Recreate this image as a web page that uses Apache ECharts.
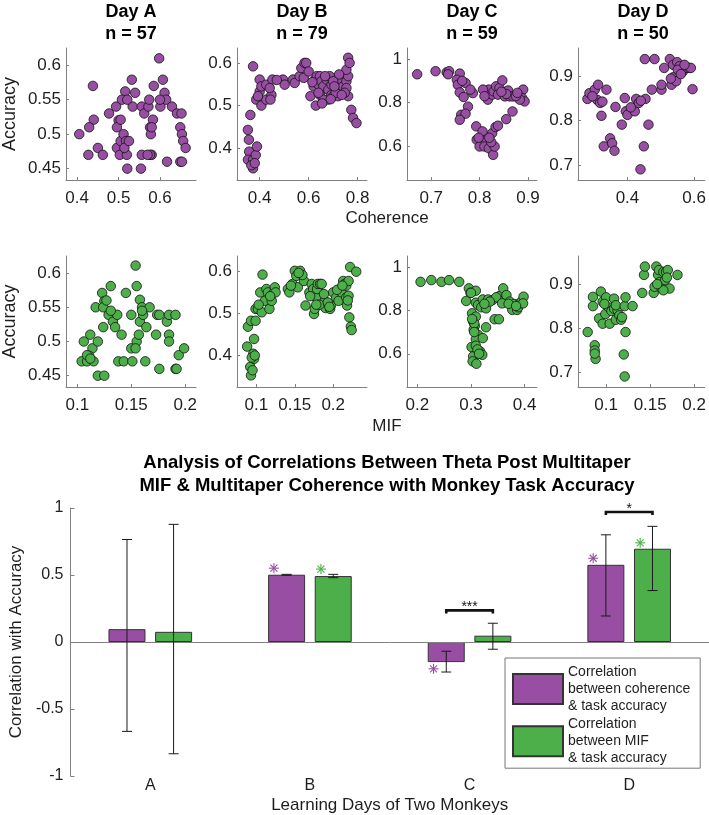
<!DOCTYPE html>
<html><head><meta charset="utf-8">
<script src="https://cdn.jsdelivr.net/npm/echarts@6/dist/echarts.min.js"></script>
<style>html,body{margin:0;padding:0;background:#fff}#c{width:709px;height:815px}</style>
</head><body><div id="c"></div>
<script>
// ---------------- DATA ----------------
const days = ['A', 'B', 'C', 'D'];
const dayN = [57, 79, 59, 50];

// Coherence vs accuracy, per day  [coherence, accuracy]
const cohDayA = [[0.405,0.500],[0.438,0.570],[0.440,0.521],[0.429,0.510],[0.427,0.470],[0.450,0.480],[0.462,0.470],[0.477,0.530],[0.494,0.540],[0.500,0.520],[0.496,0.510],[0.505,0.521],[0.496,0.480],[0.503,0.470],[0.505,0.490],[0.516,0.562],[0.508,0.550],[0.512,0.500],[0.518,0.490],[0.520,0.470],[0.521,0.450],[0.532,0.579],[0.534,0.540],[0.540,0.560],[0.521,0.550],[0.554,0.450],[0.556,0.540],[0.562,0.530],[0.556,0.470],[0.572,0.540],[0.574,0.550],[0.576,0.510],[0.578,0.500],[0.580,0.470],[0.576,0.470],[0.583,0.521],[0.580,0.510],[0.585,0.570],[0.598,0.610],[0.607,0.579],[0.601,0.540],[0.611,0.560],[0.615,0.550],[0.629,0.540],[0.617,0.460],[0.641,0.530],[0.652,0.530],[0.649,0.510],[0.653,0.500],[0.656,0.490],[0.662,0.480],[0.649,0.460],[0.653,0.460],[0.570,0.470],[0.514,0.480],[0.525,0.490],[0.600,0.550]];
const cohDayB = [[0.352,0.443],[0.356,0.420],[0.357,0.392],[0.352,0.373],[0.373,0.373],[0.384,0.384],[0.389,0.404],[0.373,0.353],[0.366,0.360],[0.362,0.478],[0.373,0.592],[0.386,0.514],[0.400,0.561],[0.400,0.533],[0.407,0.500],[0.427,0.514],[0.407,0.545],[0.427,0.549],[0.448,0.525],[0.444,0.514],[0.452,0.561],[0.441,0.541],[0.495,0.561],[0.502,0.549],[0.536,0.561],[0.543,0.553],[0.563,0.569],[0.570,0.588],[0.583,0.600],[0.590,0.600],[0.580,0.565],[0.600,0.580],[0.620,0.545],[0.607,0.522],[0.629,0.500],[0.627,0.561],[0.640,0.549],[0.633,0.569],[0.646,0.569],[0.652,0.557],[0.660,0.545],[0.673,0.561],[0.680,0.537],[0.680,0.514],[0.693,0.525],[0.686,0.569],[0.700,0.522],[0.713,0.553],[0.720,0.522],[0.727,0.533],[0.733,0.561],[0.740,0.545],[0.754,0.557],[0.761,0.569],[0.754,0.584],[0.761,0.522],[0.754,0.541],[0.761,0.612],[0.767,0.600],[0.774,0.490],[0.781,0.471],[0.795,0.459],[0.646,0.525],[0.693,0.549],[0.724,0.573],[0.660,0.514],[0.667,0.569],[0.700,0.557],[0.710,0.530],[0.747,0.530],[0.640,0.530],[0.655,0.505],[0.690,0.515],[0.735,0.525],[0.615,0.555],[0.380,0.365],[0.393,0.522],[0.470,0.560],[0.705,0.545]];
const cohDayC = [[0.671,0.930],[0.709,0.944],[0.732,0.939],[0.737,0.944],[0.759,0.933],[0.753,0.905],[0.755,0.882],[0.771,0.890],[0.759,0.847],[0.767,0.826],[0.786,0.844],[0.781,0.860],[0.776,0.782],[0.762,0.745],[0.771,0.750],[0.759,0.722],[0.793,0.692],[0.794,0.631],[0.800,0.600],[0.806,0.669],[0.814,0.631],[0.810,0.600],[0.819,0.592],[0.828,0.562],[0.831,0.600],[0.826,0.661],[0.833,0.689],[0.838,0.695],[0.855,0.725],[0.868,0.760],[0.814,0.844],[0.817,0.814],[0.819,0.860],[0.826,0.837],[0.829,0.852],[0.834,0.875],[0.841,0.867],[0.847,0.902],[0.838,0.837],[0.852,0.829],[0.859,0.856],[0.862,0.829],[0.869,0.829],[0.883,0.837],[0.890,0.860],[0.888,0.821],[0.893,0.806],[0.883,0.814],[0.855,0.840],[0.807,0.860],[0.810,0.830],[0.798,0.640],[0.824,0.620],[0.845,0.850],[0.875,0.830],[0.735,0.930],[0.764,0.900],[0.820,0.640],[0.878,0.845]];
const cohDayD = [[0.280,0.849],[0.286,0.862],[0.302,0.870],[0.312,0.881],[0.309,0.847],[0.318,0.840],[0.325,0.843],[0.322,0.811],[0.337,0.870],[0.329,0.742],[0.348,0.760],[0.354,0.749],[0.361,0.732],[0.364,0.831],[0.392,0.851],[0.395,0.821],[0.400,0.813],[0.383,0.791],[0.422,0.821],[0.426,0.849],[0.434,0.840],[0.454,0.849],[0.452,0.939],[0.481,0.939],[0.463,0.791],[0.449,0.742],[0.439,0.690],[0.473,0.870],[0.502,0.870],[0.502,0.881],[0.510,0.919],[0.527,0.939],[0.532,0.881],[0.537,0.898],[0.546,0.889],[0.537,0.926],[0.549,0.932],[0.556,0.923],[0.566,0.911],[0.576,0.919],[0.585,0.919],[0.590,0.919],[0.595,0.871],[0.551,0.915],[0.571,0.926],[0.295,0.855],[0.410,0.830],[0.440,0.845],[0.530,0.895],[0.560,0.905]];

// MIF vs accuracy, per day  [MIF, accuracy]
const mifDayA = [[0.106,0.500],[0.104,0.471],[0.109,0.471],[0.112,0.510],[0.114,0.490],[0.111,0.479],[0.115,0.471],[0.109,0.480],[0.119,0.500],[0.117,0.550],[0.119,0.450],[0.125,0.450],[0.123,0.571],[0.125,0.559],[0.124,0.550],[0.124,0.521],[0.127,0.560],[0.131,0.581],[0.129,0.539],[0.133,0.529],[0.135,0.521],[0.137,0.539],[0.141,0.510],[0.138,0.471],[0.143,0.471],[0.145,0.571],[0.150,0.539],[0.151,0.471],[0.150,0.490],[0.154,0.611],[0.155,0.581],[0.158,0.561],[0.155,0.500],[0.154,0.490],[0.157,0.510],[0.158,0.529],[0.160,0.550],[0.161,0.539],[0.164,0.521],[0.163,0.471],[0.167,0.550],[0.173,0.510],[0.174,0.539],[0.176,0.539],[0.176,0.460],[0.183,0.529],[0.185,0.539],[0.185,0.510],[0.185,0.500],[0.191,0.539],[0.191,0.460],[0.192,0.460],[0.194,0.480],[0.199,0.490],[0.131,0.545],[0.160,0.545],[0.112,0.475]];
const mifDayB = [[0.088,0.421],[0.089,0.468],[0.092,0.373],[0.093,0.353],[0.096,0.404],[0.097,0.439],[0.097,0.392],[0.093,0.482],[0.099,0.510],[0.102,0.510],[0.099,0.482],[0.107,0.502],[0.105,0.549],[0.108,0.591],[0.111,0.529],[0.113,0.557],[0.115,0.549],[0.117,0.510],[0.120,0.529],[0.123,0.549],[0.124,0.561],[0.125,0.549],[0.141,0.557],[0.143,0.549],[0.147,0.569],[0.150,0.600],[0.152,0.588],[0.157,0.600],[0.154,0.561],[0.162,0.576],[0.164,0.518],[0.169,0.549],[0.172,0.569],[0.174,0.557],[0.175,0.498],[0.176,0.510],[0.178,0.537],[0.179,0.557],[0.180,0.569],[0.183,0.569],[0.185,0.569],[0.189,0.529],[0.190,0.512],[0.196,0.510],[0.197,0.518],[0.200,0.549],[0.204,0.537],[0.207,0.529],[0.209,0.557],[0.211,0.549],[0.213,0.576],[0.215,0.569],[0.217,0.565],[0.217,0.537],[0.218,0.518],[0.220,0.576],[0.220,0.541],[0.221,0.490],[0.223,0.468],[0.224,0.460],[0.222,0.609],[0.230,0.598],[0.094,0.395],[0.095,0.365],[0.098,0.400],[0.103,0.520],[0.118,0.540],[0.145,0.565],[0.160,0.590],[0.170,0.540],[0.182,0.520],[0.188,0.545],[0.193,0.525],[0.205,0.555],[0.212,0.565],[0.219,0.530],[0.155,0.595],[0.178,0.520],[0.195,0.515]];
const mifDayC = [[0.206,0.931],[0.226,0.939],[0.245,0.931],[0.259,0.939],[0.278,0.931],[0.296,0.901],[0.299,0.881],[0.291,0.843],[0.309,0.890],[0.302,0.786],[0.304,0.748],[0.309,0.771],[0.307,0.728],[0.305,0.710],[0.313,0.687],[0.309,0.667],[0.301,0.631],[0.309,0.637],[0.304,0.588],[0.303,0.565],[0.310,0.554],[0.317,0.611],[0.321,0.595],[0.322,0.672],[0.328,0.722],[0.309,0.835],[0.313,0.824],[0.322,0.850],[0.319,0.814],[0.328,0.809],[0.332,0.850],[0.340,0.847],[0.344,0.759],[0.352,0.759],[0.353,0.866],[0.360,0.901],[0.362,0.847],[0.366,0.870],[0.372,0.840],[0.377,0.802],[0.381,0.829],[0.386,0.802],[0.388,0.814],[0.391,0.832],[0.394,0.840],[0.398,0.863],[0.397,0.832],[0.347,0.860],[0.358,0.832],[0.306,0.740],[0.312,0.620],[0.300,0.880],[0.335,0.840],[0.370,0.830],[0.384,0.820],[0.306,0.700],[0.315,0.600],[0.325,0.830],[0.302,0.760]];
const mifDayD = [[0.079,0.791],[0.085,0.871],[0.085,0.850],[0.087,0.761],[0.087,0.749],[0.088,0.730],[0.087,0.742],[0.094,0.883],[0.096,0.860],[0.092,0.822],[0.096,0.810],[0.099,0.832],[0.100,0.870],[0.103,0.847],[0.106,0.839],[0.109,0.867],[0.104,0.810],[0.109,0.844],[0.113,0.841],[0.111,0.852],[0.111,0.819],[0.115,0.829],[0.117,0.819],[0.121,0.850],[0.122,0.870],[0.122,0.791],[0.120,0.740],[0.121,0.690],[0.130,0.850],[0.141,0.880],[0.143,0.921],[0.144,0.940],[0.154,0.880],[0.155,0.894],[0.157,0.940],[0.159,0.921],[0.160,0.932],[0.161,0.905],[0.163,0.890],[0.165,0.928],[0.167,0.909],[0.168,0.928],[0.172,0.890],[0.170,0.932],[0.181,0.921],[0.165,0.886],[0.098,0.855],[0.118,0.825],[0.158,0.900],[0.169,0.915]];

// Axis ranges and tick labels per day
const accRange  = [[0.4335, 0.625], [0.3255, 0.635], [0.447, 1.05], [0.666, 0.964]];
const accTicks  = [[0.45, 0.5, 0.55, 0.6], [0.4, 0.5, 0.6], [0.6, 0.8, 1], [0.7, 0.8, 0.9]];
const cohRange  = [[0.373, 0.687], [0.3075, 0.838], [0.65, 0.9186], [0.2517, 0.632]];
const cohTicks  = [[0.4, 0.5, 0.6], [0.4, 0.6, 0.8], [0.7, 0.8, 0.9], [0.4, 0.6]];
const mifRange  = [[0.0895, 0.210], [0.0748, 0.244], [0.1807, 0.423], [0.068, 0.212]];
const mifTicks  = [[0.1, 0.15, 0.2], [0.1, 0.15, 0.2], [0.2, 0.3, 0.4], [0.1, 0.15, 0.2]];

// Correlation bar chart
const cohCorr     = [0.096, 0.502, -0.150, 0.576];
const mifCorr     = [0.076, 0.492, 0.047, 0.696];
const cohErrLow   = [-0.667, 0.498, -0.224, 0.194];
const cohErrHigh  = [0.765, 0.505, -0.069, 0.800];
const mifErrLow   = [-0.834, 0.480, -0.054, 0.384];
const mifErrHigh  = [0.878, 0.505, 0.140, 0.863];
const cohStar     = [null, 0.551, -0.200, 0.625];
const mifStar     = [null, 0.544, null, 0.740];
const bracketDays = ['C', 'D'];
const bracketY    = [0.236, 0.970];
const bracketText = ['***', '*'];
const barTicks    = [-1, -0.5, 0, 0.5, 1];

// ---------------- STYLE ----------------
const PURPLE = '#984EA3', GREEN = '#4DAF4A';
const AX = '#808080', TXT = '#1e1e1e';
const FONT = "'Liberation Sans', Arial, Helvetica, sans-serif";
const colLeft = [66, 237, 407, 578], colW = 130;
const rowTop = [48, 256], rowH = [132, 131];
const fmt = v => String(+(+v).toFixed(3));

const grids = [], xAxes = [], yAxes = [], series = [];
const cohSets = [cohDayA, cohDayB, cohDayC, cohDayD];
const mifSets = [mifDayA, mifDayB, mifDayC, mifDayD];

function addPanel(row, col, pts, xr, xt, color) {
  const gi = grids.length;
  grids.push({left: colLeft[col], top: rowTop[row], width: colW, height: rowH[row]});
  xAxes.push({gridIndex: gi, type: 'value', min: xr[0], max: xr[1],
    axisLine: {show: true, onZero: false, lineStyle: {color: AX, width: 1}},
    axisTick: {show: true, inside: true, length: 3, customValues: xt, lineStyle: {color: AX}},
    axisLabel: {customValues: xt, margin: 10, fontSize: 17, color: TXT, fontFamily: FONT, formatter: fmt},
    splitLine: {show: false}});
  const y = {gridIndex: gi, type: 'value', min: accRange[col][0], max: accRange[col][1],
    axisLine: {show: true, onZero: false, lineStyle: {color: AX, width: 1}},
    axisTick: {show: true, inside: true, length: 3, customValues: accTicks[col], lineStyle: {color: AX}},
    axisLabel: {customValues: accTicks[col], margin: 5, fontSize: 17, color: TXT, fontFamily: FONT, formatter: fmt},
    splitLine: {show: false}};
  if (col === 0) {
    Object.assign(y, {name: 'Accuracy', nameLocation: 'middle', nameGap: 47,
      nameTextStyle: {fontSize: 18, color: TXT, fontFamily: FONT}});
  }
  yAxes.push(y);
  series.push({type: 'scatter', xAxisIndex: gi, yAxisIndex: gi, data: pts, symbolSize: 9.5,
    itemStyle: {color: color, borderColor: '#111', borderWidth: 0.8, opacity: 1}});
}
for (let c = 0; c < 4; c++) addPanel(0, c, cohSets[c], cohRange[c], cohTicks[c], PURPLE);
for (let c = 0; c < 4; c++) addPanel(1, c, mifSets[c], mifRange[c], mifTicks[c], GREEN);

// Bar chart
const bg = grids.length;
grids.push({left: 65, top: 508, width: 644, height: 271});
xAxes.push({gridIndex: bg, type: 'category', data: days,
  axisLine: {show: false}, axisTick: {show: false},
  axisLabel: {margin: 2, fontSize: 16, color: TXT, fontFamily: FONT},
  name: 'Learning Days of Two Monkeys', nameLocation: 'middle', nameGap: 21,
  nameTextStyle: {fontSize: 17, color: TXT, fontFamily: FONT}});
yAxes.push({gridIndex: bg, type: 'value', min: -1, max: 1, interval: 0.5,
  axisLine: {show: true, lineStyle: {color: AX, width: 1}},
  axisTick: {show: true, inside: true, length: 4, lineStyle: {color: AX}},
  axisLabel: {margin: 7, fontSize: 16, color: TXT, fontFamily: FONT, customValues: barTicks, formatter: fmt},
  splitLine: {show: false},
  name: 'Correlation with Accuracy', nameLocation: 'middle', nameGap: 45,
  nameTextStyle: {fontSize: 17, color: TXT, fontFamily: FONT}});

const BAR_OFF = 23.3;
series.push({type: 'bar', name: 'coh', xAxisIndex: bg, yAxisIndex: bg, data: cohCorr,
  barWidth: 37, barGap: '26%',
  itemStyle: {color: PURPLE, borderColor: '#333', borderWidth: 1},
  markLine: {silent: true, symbol: 'none', label: {show: false},
    lineStyle: {color: AX, width: 1, type: 'solid'}, data: [{yAxis: 0}]}});
series.push({type: 'bar', name: 'mif', xAxisIndex: bg, yAxisIndex: bg, data: mifCorr,
  barWidth: 37, barGap: '26%',
  itemStyle: {color: GREEN, borderColor: '#333', borderWidth: 1}});

function errRender(off) {
  return function (params, api) {
    const i = api.value(0);
    const lo = api.coord([i, api.value(1)]);
    const hi = api.coord([i, api.value(2)]);
    const x = lo[0] + off, cw = 5;
    const st = {stroke: '#1a1a1a', lineWidth: 1};
    return {type: 'group', children: [
      {type: 'line', shape: {x1: x, y1: lo[1], x2: x, y2: hi[1]}, style: st},
      {type: 'line', shape: {x1: x - cw, y1: lo[1], x2: x + cw, y2: lo[1]}, style: st},
      {type: 'line', shape: {x1: x - cw, y1: hi[1], x2: x + cw, y2: hi[1]}, style: st}
    ]};
  };
}
series.push({type: 'custom', xAxisIndex: bg, yAxisIndex: bg, z: 5, silent: true,
  data: days.map((d, i) => [i, cohErrLow[i], cohErrHigh[i]]), renderItem: errRender(-BAR_OFF)});
series.push({type: 'custom', xAxisIndex: bg, yAxisIndex: bg, z: 5, silent: true,
  data: days.map((d, i) => [i, mifErrLow[i], mifErrHigh[i]]), renderItem: errRender(BAR_OFF)});

function starRender(off, color) {
  return function (params, api) {
    const p = api.coord([api.value(0), api.value(1)]);
    const x = p[0] + off, y = p[1], r = 5, d = 3.5;
    const st = {stroke: color, lineWidth: 1.1};
    return {type: 'group', children: [
      {type: 'line', shape: {x1: x - r, y1: y, x2: x + r, y2: y}, style: st},
      {type: 'line', shape: {x1: x, y1: y - r, x2: x, y2: y + r}, style: st},
      {type: 'line', shape: {x1: x - d, y1: y - d, x2: x + d, y2: y + d}, style: st},
      {type: 'line', shape: {x1: x - d, y1: y + d, x2: x + d, y2: y - d}, style: st}
    ]};
  };
}
series.push({type: 'custom', xAxisIndex: bg, yAxisIndex: bg, z: 6, silent: true,
  data: cohStar.map((v, i) => v == null ? null : [i, v]).filter(Boolean), renderItem: starRender(-36, PURPLE)});
series.push({type: 'custom', xAxisIndex: bg, yAxisIndex: bg, z: 6, silent: true,
  data: mifStar.map((v, i) => v == null ? null : [i, v]).filter(Boolean), renderItem: starRender(11, GREEN)});

series.push({type: 'custom', xAxisIndex: bg, yAxisIndex: bg, z: 6, silent: true,
  data: bracketDays.map((d, k) => [days.indexOf(d), bracketY[k], k]),
  renderItem: function (params, api) {
    const p = api.coord([api.value(0), api.value(1)]);
    const k = api.value(2);
    const x1 = p[0] - BAR_OFF, x2 = p[0] + BAR_OFF, y = p[1], drop = 3;
    return {type: 'group', children: [
      {type: 'polyline', shape: {points: [[x1, y + drop], [x1, y], [x2, y], [x2, y + drop]]},
        style: {stroke: '#111', lineWidth: 2.6, fill: 'none'}},
      {type: 'text', x: p[0], y: y - 3,
        style: {text: bracketText[k], fontSize: 14, fontFamily: FONT, fill: '#111',
          align: 'center', verticalAlign: 'middle', textAlign: 'center', textVerticalAlign: 'middle'}}
    ]};
  }});

// Texts
const graphics = [];
for (let c = 0; c < 4; c++) {
  graphics.push({type: 'text', x: colLeft[c] + colW / 2, y: 1,
    style: {text: 'Day ' + days[c] + '\nn = ' + dayN[c], fontSize: 18, fontWeight: 'bold',
      fontFamily: FONT, fill: '#000', lineHeight: 22,
      align: 'center', verticalAlign: 'top', textAlign: 'center', textVerticalAlign: 'top'}});
}
graphics.push({type: 'text', x: 387, y: 218,
  style: {text: 'Coherence', fontSize: 17, fontFamily: FONT, fill: TXT,
    align: 'center', verticalAlign: 'middle', textAlign: 'center', textVerticalAlign: 'middle'}});
graphics.push({type: 'text', x: 387, y: 426,
  style: {text: 'MIF', fontSize: 17, fontFamily: FONT, fill: TXT,
    align: 'center', verticalAlign: 'middle', textAlign: 'center', textVerticalAlign: 'middle'}});
graphics.push({type: 'text', x: 387, y: 451.5,
  style: {text: 'Analysis of Correlations Between Theta Post Multitaper\nMIF & Multitaper Coherence with Monkey Task Accuracy',
    fontSize: 18.5, fontWeight: 'bold', fontFamily: FONT, fill: '#000', lineHeight: 23,
    align: 'center', verticalAlign: 'top', textAlign: 'center', textVerticalAlign: 'top'}});

const legendText = {
  coh: 'Correlation\nbetween coherence\n& task accuracy',
  mif: 'Correlation\nbetween MIF\n& task accuracy'
};

const chart = echarts.init(document.getElementById('c'));
chart.setOption({
  animation: false,
  backgroundColor: '#fff',
  textStyle: {fontFamily: FONT},
  grid: grids,
  xAxis: xAxes,
  yAxis: yAxes,
  legend: {data: ['coh', 'mif'], orient: 'vertical', left: 505, top: 658,
    itemWidth: 50, itemHeight: 30, itemGap: 2, padding: [6, 10, 2, 7],
    borderColor: '#777', borderWidth: 1, selectedMode: false, icon: 'rect',
    formatter: n => legendText[n],
    textStyle: {fontSize: 14, lineHeight: 16.7, color: TXT, fontFamily: FONT}},
  graphic: graphics,
  series: series
});
</script>
</body></html>
